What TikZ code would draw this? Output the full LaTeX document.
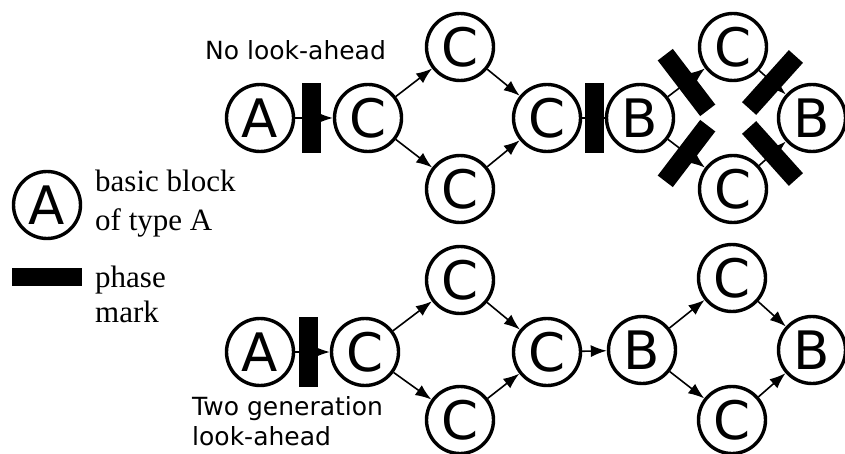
\documentclass[tikz,border=0pt]{standalone}
\usepackage{fontspec}
\setmainfont{Liberation Serif}
\newfontfamily\dejavu{DejaVu Sans}
\usetikzlibrary{arrows.meta,calc}
\begin{document}
\begin{tikzpicture}[x=1pt,y=-1pt,
  block/.style={circle,draw,line width=3.4pt,fill=white,minimum size=67pt,inner sep=0pt,
    font=\dejavu\fontsize{53}{53}\selectfont},
  phasebar/.style={rectangle,fill=black,minimum width=19pt,minimum height=70pt,inner sep=0pt},
  flow/.style={line width=1.6pt,-{Latex[length=16pt,width=12pt]}},
  link/.style={line width=1.6pt},
  caption/.style={font=\dejavu\fontsize{25}{30}\selectfont,anchor=base west,inner sep=0pt},
  legend/.style={font=\fontsize{31}{38}\selectfont,anchor=base west,inner sep=0pt}]
\useasboundingbox (0,0) rectangle (845,454);

% ---------- legend ----------
\node[block] (legA) at (47,205) {A};
\node[legend] (legT1) at (95,192) {basic block};
\node[legend] (legT2) at (95,230) {of type A};
\node[phasebar,minimum width=70pt,minimum height=18pt] (legM) at (47,277) {};
\node[legend] (legT3) at (95,287) {phase};
\node[legend] (legT4) at (95,322) {mark};

% ---------- upper graph: no look-ahead ----------
\node[caption] (capT) at (205,60) {No look-ahead};
\node[block] (tA)  at (260,118) {A};
\node[block] (tC1) at (368,118) {C};
\node[block] (tCu) at (460,47)  {C};
\node[block] (tCd) at (460,189) {C};
\node[block] (tCm) at (547,118) {C};
\node[block] (tB1) at (640,118) {B};
\node[block] (tCu2) at (733,47) {C};
\node[block] (tCd2) at (733,189) {C};
\node[block] (tB2) at (812,118) {B};

\draw[flow] (tA) -- (tC1);
\draw[flow] (tC1) -- (tCu);
\draw[flow] (tC1) -- (tCd);
\draw[flow] (tCu) -- (tCm);
\draw[flow] (tCd) -- (tCm);
\draw[link] (tCm) -- (tB1);
\draw[flow] (tB1) -- (tCu2);
\draw[flow] (tB1) -- (tCd2);
\draw[flow] (tCu2) -- (tB2);
\draw[flow] (tCd2) -- (tB2);

\node[phasebar] (tM1) at (311,118) {};
\node[phasebar] (tM2) at (594,118) {};
\path (tB1) -- node[phasebar,sloped] (tM3) {} (tCu2);
\path (tB1) -- node[phasebar,sloped] (tM4) {} (tCd2);
\path (tCu2) -- node[phasebar,sloped] (tM5) {} (tB2);
\path (tCd2) -- node[phasebar,sloped] (tM6) {} (tB2);

% ---------- lower graph: two generation look-ahead ----------
\node[caption] (capB1) at (192,415) {Two generation};
\node[caption] (capB2) at (192,445) {look-ahead};
\node[block] (bA)  at (260,352) {A};
\node[block] (bC1) at (365,352) {C};
\node[block] (bCu) at (460,280) {C};
\node[block] (bCd) at (460,420) {C};
\node[block] (bCm) at (547,352) {C};
\node[block] (bB1) at (642,350) {B};
\node[block] (bCu2) at (732,278) {C};
\node[block] (bCd2) at (732,420) {C};
\node[block] (bB2) at (812,350) {B};

\draw[flow] (bA) -- (bC1);
\draw[flow] (bC1) -- (bCu);
\draw[flow] (bC1) -- (bCd);
\draw[flow] (bCu) -- (bCm);
\draw[flow] (bCd) -- (bCm);
\draw[flow] (bCm) -- (bB1);
\draw[flow] (bB1) -- (bCu2);
\draw[flow] (bB1) -- (bCd2);
\draw[flow] (bCu2) -- (bB2);
\draw[flow] (bCd2) -- (bB2);

\node[phasebar] (bM1) at (308,352) {};
\end{tikzpicture}
\end{document}
